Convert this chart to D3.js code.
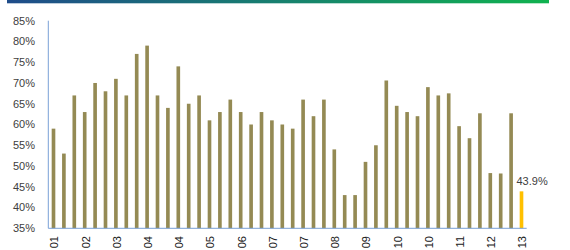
<!DOCTYPE html>
<html>
<head>
<meta charset="utf-8">
<script src="https://cdn.jsdelivr.net/npm/d3@7.9.0/dist/d3.min.js"></script>
<style>
  body { margin: 0; background: #fff; }
  svg { display: block; font-family: "Liberation Sans", Arial, sans-serif; }
</style>
</head>
<body>
<svg id="chart" width="570" height="250"></svg>
<script>
// values, one per bar (percent)
const values = [
  59, 53, 67, 63, 70, 68, 71, 67, 77, 79,
  67, 64, 74, 65, 67, 61, 63, 66, 63, 60,
  63, 61, 60, 59, 66, 62, 66, 54, 43, 43,
  51, 55, 70.6, 64.5, 63, 62, 69, 67, 67.5, 59.6,
  56.7, 62.7, 48.3, 48.2, 62.7, 43.9
];
// every third bar carries a year label
const yearLabels = ['01', '02', '03', '04', '04', '05', '06', '07', '07', '08', '09', '10', '10', '11', '12', '13'];
const yTicks = [35, 40, 45, 50, 55, 60, 65, 70, 75, 80, 85];

const svg = d3.select('#chart');

// header strip
const grad = svg.append('defs').append('linearGradient').attr('id', 'topline');
grad.append('stop').attr('offset', '0%').attr('stop-color', '#1f4c8a');
grad.append('stop').attr('offset', '50%').attr('stop-color', '#17806f');
grad.append('stop').attr('offset', '100%').attr('stop-color', '#10b24f');
svg.append('rect')
  .attr('x', 7).attr('y', 0).attr('width', 542).attr('height', 3.3)
  .attr('fill', 'url(#topline)');

const x = d3.scaleBand()
  .domain(d3.range(values.length))
  .range([48.3, 526.7])
  .paddingInner(0.65)
  .paddingOuter(0.325);

const y = d3.scaleLinear().domain([35, 85]).range([228.3, 20.7]);

// y labels
svg.append('g')
  .selectAll('text')
  .data(yTicks)
  .join('text')
  .attr('x', 35)
  .attr('y', (d) => y(d))
  .attr('dy', '0.35em')
  .attr('text-anchor', 'end')
  .attr('font-size', 11)
  .attr('fill', '#404040')
  .text((d) => `${d}%`);

// bars
const last = values.length - 1;
svg.append('g')
  .selectAll('rect')
  .data(values)
  .join('rect')
  .attr('x', (d, i) => x(i))
  .attr('y', (d) => y(d))
  .attr('width', x.bandwidth())
  .attr('height', (d) => y(35) - y(d))
  .attr('fill', (d, i) => (i === last ? '#ffc000' : '#948a54'));

// axis lines
svg.append('line')
  .attr('x1', 48.3).attr('x2', 48.3)
  .attr('y1', y(85)).attr('y2', y(35))
  .attr('stroke', '#7aa0d6').attr('stroke-width', 1);
svg.append('line')
  .attr('x1', 48.3).attr('x2', 526.7)
  .attr('y1', y(35)).attr('y2', y(35))
  .attr('stroke', '#7aa0d6').attr('stroke-width', 1);

// x labels, rotated
svg.append('g')
  .selectAll('text')
  .data(yearLabels)
  .join('text')
  .attr('transform', (d, i) => `translate(${x(i * 3) + x.bandwidth() / 2 + 1},236) rotate(-90)`)
  .attr('dy', '0.35em')
  .attr('text-anchor', 'end')
  .attr('font-size', 11)
  .attr('fill', '#202020')
  .text((d) => d);

// callout for latest value
svg.append('text')
  .attr('x', x(last) + x.bandwidth() / 2 - 5)
  .attr('y', 185)
  .attr('font-size', 11)
  .attr('fill', '#404040')
  .text(`${values[last]}%`);
</script>
</body>
</html>
